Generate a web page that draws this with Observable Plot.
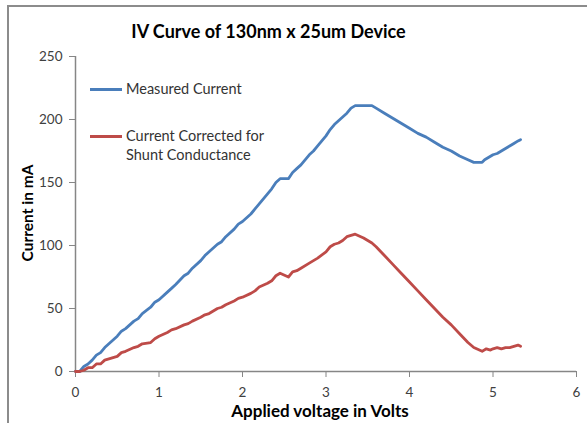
<!DOCTYPE html>
<html>
<head>
<meta charset="utf-8">
<script src="https://cdn.jsdelivr.net/npm/d3@7"></script>
<script src="https://cdn.jsdelivr.net/npm/@observablehq/plot@0.6"></script>
<style>
  html, body { margin: 0; padding: 0; background: #fff; }
  #wrap { position: relative; width: 587px; height: 423px; overflow: hidden; background: #fff; font-family: Lato, "Open Sans", sans-serif; }
  #frame { position: absolute; left: 7px; top: 5px; width: 600px; height: 440px; border-top: 2px solid #8c8c8c; border-left: 2px solid #8c8c8c; }
  #title { position: absolute; left: -25px; width: 587px; top: 20px; text-align: center; font-size: 18px; font-weight: bold; color: #000; }
  .axt { position: absolute; font-weight: bold; color: #000; white-space: nowrap; }
  .leg { position: absolute; font-size: 14.5px; color: #333; line-height: 19px; }
  .sw { position: absolute; height: 3px; width: 32px; }
  #chart { position: absolute; left: 0; top: 0; }
</style>
</head>
<body>
<div id="wrap">
  <div id="frame"></div>
  <div id="chart"></div>
  <div id="title">IV Curve of 130nm x 25um Device</div>
  <div class="axt" id="xt" style="left:0;width:640px;text-align:center;top:402px;font-size:17px;line-height:17px;">Applied voltage in Volts</div>
  <div class="axt" id="yt" style="left:-43px;top:204px;width:140px;text-align:center;transform:rotate(-90deg);font-size:15.5px;">Current in mA</div>
  <div id="legend"></div>
</div>
<script>
const seriesNames = ["Measured Current", "Current Corrected for Shunt Conductance"];
const seriesColors = ["#4a7ebb", "#be4b48"];

const voltsMeasured = [0,0.05,0.1,0.15,0.2,0.25,0.3,0.35,0.4,0.5,0.55,0.6,0.7,0.75,0.8,0.9,0.95,1.0,1.1,1.15,1.2,1.3,1.35,1.4,1.5,1.55,1.6,1.7,1.75,1.8,1.9,1.95,2.0,2.1,2.15,2.2,2.3,2.35,2.4,2.45,2.55,2.6,2.65,2.7,2.8,2.85,2.9,3.0,3.05,3.1,3.15,3.2,3.25,3.3,3.35,3.55,3.6,3.7,3.8,3.9,4.0,4.1,4.2,4.3,4.4,4.5,4.6,4.7,4.77,4.87,4.9,4.95,5.0,5.05,5.1,5.15,5.2,5.25,5.3,5.33];
const currentMeasured = [0,0,4,6,9,13,15,19,22,28,32,34,40,42,46,51,55,57,63,66,69,76,78,82,88,92,95,101,103,107,113,117,119,125,129,133,141,145,150,153,153,158,161,164,172,175,179,187,192,196,199,202,205,209,211,211,209,205,201,197,193,189,186,182,178,175,171,168,166,166,168,170,172,173,175,177,179,181,183,184];

const voltsCorrected = [0,0.05,0.1,0.15,0.2,0.25,0.3,0.35,0.4,0.5,0.55,0.6,0.7,0.75,0.8,0.9,0.95,1.0,1.1,1.15,1.2,1.3,1.35,1.4,1.5,1.55,1.6,1.7,1.75,1.8,1.9,1.95,2.0,2.1,2.15,2.2,2.3,2.35,2.4,2.45,2.55,2.6,2.65,2.7,2.8,2.85,2.9,3.0,3.05,3.1,3.15,3.2,3.25,3.3,3.35,3.45,3.55,3.6,3.7,3.8,3.9,4.0,4.1,4.2,4.3,4.4,4.5,4.6,4.7,4.77,4.87,4.92,4.97,5.0,5.05,5.1,5.15,5.2,5.25,5.3,5.33];
const currentCorrected = [0,0,1,3,3,6,6,9,10,12,15,16,19,20,22,23,26,28,31,33,34,37,38,40,43,45,46,50,51,53,56,58,59,62,64,67,70,72,76,78,75,79,80,82,86,88,90,95,99,101,102,104,107,108,109,106,102,99,92,85,78,71,64,57,50,43,37,30,23,19,16,18,17,18,19,18,19,19,20,21,20];

const xTicks = [0,1,2,3,4,5,6];
const yTicks = [0,50,100,150,200,250];

const data = [
  ...voltsMeasured.map((v, i) => ({V: v, I: currentMeasured[i], s: seriesNames[0]})),
  ...voltsCorrected.map((v, i) => ({V: v, I: currentCorrected[i], s: seriesNames[1]}))
];

const axisGrey = "#868686";
const chart = Plot.plot({
  width: 587,
  height: 423,
  marginTop: 56,
  marginBottom: 52,
  marginLeft: 75,
  marginRight: 11,
  style: {fontFamily: "Lato, 'Open Sans', sans-serif", fontSize: "13.5px", color: "#404040", background: "transparent"},
  x: {domain: [0, 6]},
  y: {domain: [0, 250]},
  color: {domain: seriesNames, range: seriesColors},
  marks: [
    Plot.axisX({ticks: xTicks, tickSize: 6, tickPadding: 10, stroke: axisGrey, label: null, tickFormat: d => String(d)}),
    Plot.axisY({ticks: yTicks, tickSize: 6, tickPadding: 7, stroke: axisGrey, label: null, tickFormat: d => String(d)}),
    Plot.ruleY([0], {stroke: axisGrey, strokeWidth: 1.5}),
    Plot.ruleX([0], {stroke: axisGrey, strokeWidth: 1.5}),
    Plot.line(data, {x: "V", y: "I", z: "s", stroke: "s", strokeWidth: 2.8, curve: "linear"})
  ]
});
document.getElementById("chart").appendChild(chart);

// legend
const legend = document.getElementById("legend");
const legendRows = [
  {lines: ["Measured Current"], top: 79},
  {lines: ["Current Corrected for", "Shunt Conductance"], top: 126}
];
legendRows.forEach((r, i) => {
  const sw = document.createElement("div");
  sw.className = "sw";
  sw.style.left = "90px";
  sw.style.top = (r.top + 9) + "px";
  sw.style.background = seriesColors[i];
  legend.appendChild(sw);
  const t = document.createElement("div");
  t.className = "leg";
  t.style.left = "126px";
  t.style.top = r.top + "px";
  t.innerHTML = r.lines.join("<br>");
  legend.appendChild(t);
});
</script>
</body>
</html>
